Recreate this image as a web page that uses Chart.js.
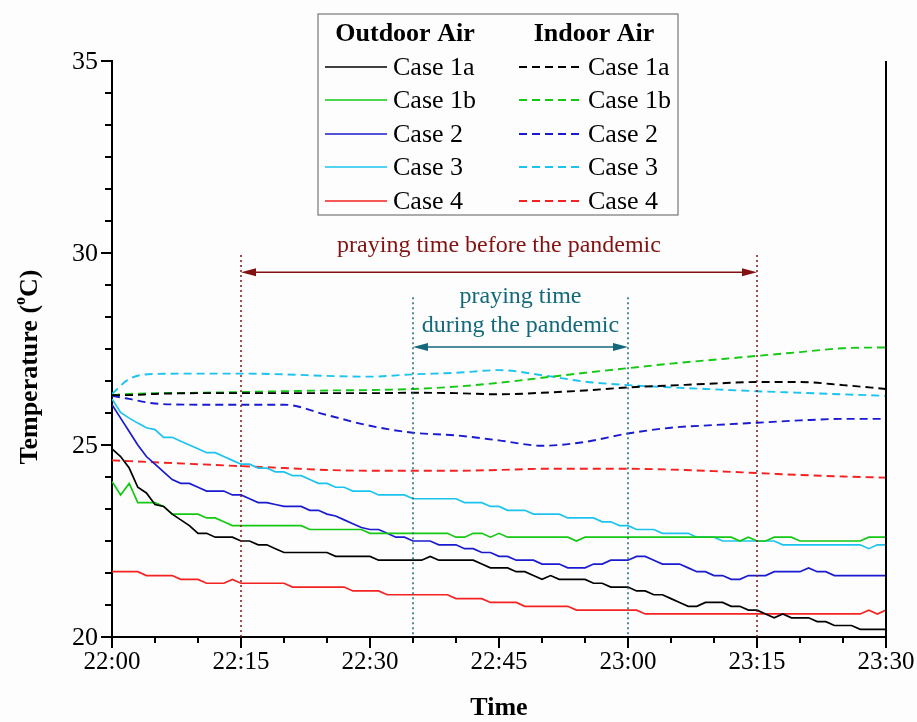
<!DOCTYPE html>
<html>
<head>
<meta charset="utf-8">
<script src="https://cdn.jsdelivr.net/npm/chart.js@4.4.1/dist/chart.umd.min.js"></script>
<style>
  html, body { margin: 0; padding: 0; background: #fdfdfd; }
  #wrap { width: 917px; height: 722px; }
</style>
</head>
<body>
<div id="wrap"><canvas id="tempChart" width="917" height="722"></canvas></div>
<script>
// ---- data ----
const caseNames = ['Case 1a', 'Case 1b', 'Case 2', 'Case 3', 'Case 4'];
const groupNames = ['Outdoor Air', 'Indoor Air'];
const timeTicks = ['22:00', '22:15', '22:30', '22:45', '23:00', '23:15', '23:30'];
const tempTicks = [20, 25, 30, 35];

// minutes after 22:00
const outdoorMinutes = [
  0, 1, 2, 3, 4, 5, 6, 7, 8, 9, 10, 11, 12, 13, 14, 15, 16, 17, 18, 19,
  20, 21, 22, 23, 24, 25, 26, 27, 28, 29, 30, 31, 32, 33, 34, 35, 36, 37, 38, 39,
  40, 41, 42, 43, 44, 45, 46, 47, 48, 49, 50, 51, 52, 53, 54, 55, 56, 57, 58, 59,
  60, 61, 62, 63, 64, 65, 66, 67, 68, 69, 70, 71, 72, 73, 74, 75, 76, 77, 78, 79,
  80, 81, 82, 83, 84, 85, 86, 87, 88, 89, 90
];
const indoorMinutes = [0, 2, 5, 10, 15, 20, 25, 30, 35, 40, 45, 50, 55, 60, 65, 70, 75, 80, 85, 90];

const outCase1a = [
  24.9, 24.7, 24.4, 23.9, 23.75, 23.45, 23.4, 23.2, 23.05, 22.9,
  22.7, 22.7, 22.6, 22.6, 22.6, 22.5, 22.5, 22.4, 22.4, 22.3,
  22.2, 22.2, 22.2, 22.2, 22.2, 22.2, 22.1, 22.1, 22.1, 22.1,
  22.1, 22.0, 22.0, 22.0, 22.0, 22.0, 22.0, 22.1, 22.0, 22.0,
  22.0, 22.0, 22.0, 21.9, 21.8, 21.8, 21.8, 21.7, 21.7, 21.6,
  21.5, 21.6, 21.5, 21.5, 21.5, 21.5, 21.4, 21.4, 21.3, 21.3,
  21.3, 21.2, 21.2, 21.1, 21.1, 21.0, 20.9, 20.8, 20.8, 20.9,
  20.9, 20.9, 20.8, 20.8, 20.7, 20.7, 20.6, 20.5, 20.6, 20.5,
  20.5, 20.5, 20.4, 20.4, 20.3, 20.3, 20.3, 20.2, 20.2, 20.2,
  20.2
];
const outCase1b = [
  24.05, 23.7, 24.0, 23.5, 23.5, 23.5, 23.4, 23.2, 23.2, 23.2,
  23.2, 23.1, 23.1, 23.0, 22.9, 22.9, 22.9, 22.9, 22.9, 22.9,
  22.9, 22.9, 22.9, 22.8, 22.8, 22.8, 22.8, 22.8, 22.8, 22.8,
  22.7, 22.7, 22.7, 22.7, 22.7, 22.7, 22.7, 22.7, 22.7, 22.7,
  22.6, 22.6, 22.7, 22.7, 22.6, 22.7, 22.6, 22.6, 22.6, 22.6,
  22.6, 22.6, 22.6, 22.6, 22.5, 22.6, 22.6, 22.6, 22.6, 22.6,
  22.6, 22.6, 22.6, 22.6, 22.6, 22.6, 22.6, 22.6, 22.6, 22.6,
  22.6, 22.6, 22.6, 22.5, 22.6, 22.5, 22.5, 22.6, 22.6, 22.6,
  22.5, 22.5, 22.5, 22.5, 22.5, 22.5, 22.5, 22.5, 22.6, 22.6,
  22.6
];
const outCase2 = [
  26.05, 25.7, 25.35, 25.0, 24.7, 24.5, 24.3, 24.1, 24.0, 24.0,
  23.9, 23.8, 23.8, 23.8, 23.7, 23.7, 23.6, 23.5, 23.5, 23.45,
  23.4, 23.4, 23.4, 23.3, 23.3, 23.2, 23.15, 23.05, 22.95, 22.85,
  22.8, 22.8, 22.7, 22.6, 22.6, 22.5, 22.5, 22.5, 22.4, 22.4,
  22.4, 22.3, 22.3, 22.2, 22.2, 22.1, 22.1, 22.0, 22.0, 22.0,
  21.9, 21.9, 21.9, 21.8, 21.8, 21.8, 21.9, 21.9, 22.0, 22.0,
  22.0, 22.1, 22.1, 22.0, 21.9, 21.9, 21.9, 21.8, 21.7, 21.7,
  21.6, 21.6, 21.5, 21.5, 21.6, 21.6, 21.6, 21.7, 21.7, 21.7,
  21.7, 21.8, 21.7, 21.7, 21.6, 21.6, 21.6, 21.6, 21.6, 21.6,
  21.6
];
const outCase3 = [
  26.2, 25.85, 25.7, 25.57, 25.45, 25.4, 25.2, 25.2, 25.1, 25.0,
  24.9, 24.8, 24.8, 24.7, 24.6, 24.5, 24.5, 24.4, 24.4, 24.3,
  24.3, 24.2, 24.2, 24.1, 24.0, 24.0, 23.9, 23.9, 23.8, 23.8,
  23.8, 23.7, 23.7, 23.7, 23.7, 23.6, 23.6, 23.6, 23.6, 23.6,
  23.6, 23.5, 23.5, 23.5, 23.4, 23.4, 23.3, 23.3, 23.3, 23.2,
  23.2, 23.2, 23.2, 23.1, 23.1, 23.1, 23.1, 23.0, 23.0, 22.9,
  22.9, 22.8, 22.8, 22.8, 22.7, 22.7, 22.7, 22.7, 22.6, 22.6,
  22.6, 22.5, 22.5, 22.5, 22.5, 22.5, 22.5, 22.5, 22.4, 22.4,
  22.4, 22.4, 22.4, 22.4, 22.4, 22.4, 22.4, 22.4, 22.3, 22.4,
  22.4
];
const outCase4 = [
  21.7, 21.7, 21.7, 21.7, 21.6, 21.6, 21.6, 21.6, 21.5, 21.5,
  21.5, 21.4, 21.4, 21.4, 21.5, 21.4, 21.4, 21.4, 21.4, 21.4,
  21.4, 21.3, 21.3, 21.3, 21.3, 21.3, 21.3, 21.3, 21.2, 21.2,
  21.2, 21.2, 21.1, 21.1, 21.1, 21.1, 21.1, 21.1, 21.1, 21.1,
  21.0, 21.0, 21.0, 21.0, 20.9, 20.9, 20.9, 20.9, 20.8, 20.8,
  20.8, 20.8, 20.8, 20.8, 20.7, 20.7, 20.7, 20.7, 20.7, 20.7,
  20.7, 20.7, 20.6, 20.6, 20.6, 20.6, 20.6, 20.6, 20.6, 20.6,
  20.6, 20.6, 20.6, 20.6, 20.6, 20.6, 20.6, 20.6, 20.6, 20.6,
  20.6, 20.6, 20.6, 20.6, 20.6, 20.6, 20.6, 20.6, 20.7, 20.6,
  20.7
];

const inCase1a = [26.3, 26.3, 26.33, 26.35, 26.35, 26.35, 26.35, 26.35, 26.36, 26.35, 26.32, 26.36, 26.42, 26.5, 26.55, 26.6, 26.64, 26.64, 26.56, 26.46];
const inCase1b = [26.3, 26.33, 26.35, 26.36, 26.38, 26.4, 26.42, 26.43, 26.46, 26.52, 26.62, 26.75, 26.88, 27.0, 27.12, 27.22, 27.32, 27.42, 27.52, 27.54];
const inCase2  = [26.28, 26.2, 26.08, 26.05, 26.05, 26.05, 25.78, 25.5, 25.32, 25.25, 25.12, 24.98, 25.08, 25.3, 25.45, 25.52, 25.58, 25.64, 25.68, 25.68];
const inCase3  = [26.33, 26.72, 26.85, 26.86, 26.86, 26.84, 26.8, 26.78, 26.84, 26.88, 26.95, 26.82, 26.65, 26.56, 26.5, 26.45, 26.4, 26.36, 26.32, 26.28];
const inCase4  = [24.6, 24.58, 24.55, 24.5, 24.45, 24.4, 24.35, 24.33, 24.33, 24.33, 24.35, 24.38, 24.38, 24.38, 24.36, 24.32, 24.27, 24.22, 24.18, 24.15];

// praying periods (minutes after 22:00)
const beforePandemic = { label: 'praying time before the pandemic', from: 15, to: 75 };
const duringPandemic = { label: ['praying time', 'during the pandemic'], from: 35, to: 60 };

// ---- styles ----
const caseColors = ['#000000', '#14c814', '#1a1ad0', '#1cc3ef', '#f52222'];
const serif = '"Liberation Serif", "Times New Roman", serif';
const maroon = '#821212';
const teal = '#13697a';

function toPoints(minutes, values) {
  return minutes.map((m, i) => ({ x: m, y: values[i] }));
}

const outdoorSets = [outCase1a, outCase1b, outCase2, outCase3, outCase4];
const indoorSets = [inCase1a, inCase1b, inCase2, inCase3, inCase4];

const datasets = [];
outdoorSets.forEach((vals, i) => {
  datasets.push({
    label: caseNames[i],
    group: 0,
    data: toPoints(outdoorMinutes, vals),
    borderColor: caseColors[i],
    borderWidth: 1.7,
    pointRadius: 0,
    tension: 0
  });
});
indoorSets.forEach((vals, i) => {
  datasets.push({
    label: caseNames[i],
    group: 1,
    data: toPoints(indoorMinutes, vals),
    borderColor: caseColors[i],
    borderWidth: 1.9,
    borderDash: [8, 5],
    pointRadius: 0,
    cubicInterpolationMode: 'monotone'
  });
});

function drawArrowHead(ctx, x, y, dir) {
  ctx.beginPath();
  ctx.moveTo(x, y);
  ctx.lineTo(x + dir * 15, y - 4);
  ctx.lineTo(x + dir * 15, y + 4);
  ctx.closePath();
  ctx.fill();
}

function drawPeriod(chart, period, topValue, arrowValue, color) {
  const ctx = chart.ctx;
  const xs = chart.scales.x, ys = chart.scales.y;
  const x1 = xs.getPixelForValue(period.from);
  const x2 = xs.getPixelForValue(period.to);
  const yTop = ys.getPixelForValue(topValue);
  const yArrow = ys.getPixelForValue(arrowValue);
  const bottom = chart.chartArea.bottom;

  ctx.save();
  ctx.strokeStyle = color;
  ctx.fillStyle = color;
  // dotted verticals
  ctx.lineWidth = 1.5;
  ctx.setLineDash([2, 3]);
  [x1, x2].forEach(x => {
    ctx.beginPath();
    ctx.moveTo(x, yTop);
    ctx.lineTo(x, bottom);
    ctx.stroke();
  });
  // double arrow
  ctx.setLineDash([]);
  ctx.lineWidth = 1.5;
  ctx.beginPath();
  ctx.moveTo(x1 + 10, yArrow);
  ctx.lineTo(x2 - 10, yArrow);
  ctx.stroke();
  drawArrowHead(ctx, x1, yArrow, 1);
  drawArrowHead(ctx, x2, yArrow, -1);
  ctx.restore();
  return { x1, x2, yTop, yArrow };
}

const decorations = {
  id: 'decorations',
  beforeDraw(chart) {
    const ctx = chart.ctx;
    ctx.save();
    ctx.fillStyle = '#fdfdfd';
    ctx.fillRect(0, 0, chart.width, chart.height);
    ctx.restore();
  },
  afterDatasetsDraw(chart) {
    const ctx = chart.ctx;
    const b = drawPeriod(chart, beforePandemic, 29.95, 29.5, maroon);
    const d = drawPeriod(chart, duringPandemic, 28.85, 27.55, teal);

    ctx.save();
    ctx.textAlign = 'center';
    ctx.textBaseline = 'middle';
    ctx.font = '24px ' + serif;
    ctx.fillStyle = maroon;
    ctx.fillText(beforePandemic.label, (b.x1 + b.x2) / 2, 246);
    ctx.fillStyle = teal;
    ctx.fillText(duringPandemic.label[0], (d.x1 + d.x2) / 2, 297);
    ctx.fillText(duringPandemic.label[1], (d.x1 + d.x2) / 2, 326);
    ctx.restore();
  },
  afterDraw(chart) {
    const ctx = chart.ctx;
    const { left, right, top, bottom } = chart.chartArea;
    const xs = chart.scales.x, ys = chart.scales.y;

    ctx.save();
    ctx.strokeStyle = '#000';
    // right frame line
    ctx.lineWidth = 2;
    ctx.beginPath();
    ctx.moveTo(right, top);
    ctx.lineTo(right, bottom + 1);
    ctx.stroke();

    // x ticks every 5 minutes, longer every 15
    for (let m = 0; m <= 90; m += 5) {
      const x = xs.getPixelForValue(m);
      const major = m % 15 === 0;
      ctx.lineWidth = 2;
      ctx.beginPath();
      ctx.moveTo(x, bottom);
      ctx.lineTo(x, bottom + (major ? 11 : 6));
      ctx.stroke();
    }
    // y ticks, 5 minor divisions between majors
    for (let k = 0; k <= 18; k++) {
      const y = ys.getPixelForValue(20 + k * 5 / 6);
      const major = k % 6 === 0;
      ctx.lineWidth = 2;
      ctx.beginPath();
      ctx.moveTo(left, y);
      ctx.lineTo(left - (major ? 11 : 7), y);
      ctx.stroke();
    }

    // tick labels
    ctx.fillStyle = '#000';
    ctx.font = '25px ' + serif;
    ctx.textAlign = 'center';
    ctx.textBaseline = 'top';
    timeTicks.forEach((t, i) => {
      ctx.fillText(t, xs.getPixelForValue(i * 15), bottom + 13);
    });
    ctx.font = '26px ' + serif;
    ctx.textAlign = 'right';
    ctx.textBaseline = 'middle';
    tempTicks.forEach(v => {
      ctx.fillText(String(v), left - 14, ys.getPixelForValue(v) + 1);
    });
    ctx.restore();

    // legend box
    ctx.save();
    const box = { x: 318, y: 14, w: 360, h: 201 };
    ctx.fillStyle = '#fdfdfd';
    ctx.fillRect(box.x, box.y, box.w, box.h);
    ctx.strokeStyle = '#777';
    ctx.lineWidth = 1.2;
    ctx.strokeRect(box.x, box.y, box.w, box.h);

    ctx.fillStyle = '#000';
    ctx.textBaseline = 'middle';
    ctx.textAlign = 'center';
    ctx.font = 'bold 26px ' + serif;
    ctx.fillText(groupNames[0], 405, 34);
    ctx.fillText(groupNames[1], 594, 34);

    const rowY = [67, 100, 134, 167, 201];
    const cols = [{ lx1: 325, lx2: 387, tx: 393 }, { lx1: 519, lx2: 583, tx: 588 }];
    ctx.textAlign = 'left';
    ctx.font = '26px ' + serif;
    chart.data.datasets.forEach((ds, i) => {
      const col = cols[ds.group];
      const y = rowY[i % 5];
      ctx.strokeStyle = ds.borderColor;
      ctx.lineWidth = ds.borderWidth;
      ctx.setLineDash(ds.borderDash || []);
      ctx.beginPath();
      ctx.moveTo(col.lx1, y);
      ctx.lineTo(col.lx2, y);
      ctx.stroke();
      ctx.setLineDash([]);
      ctx.fillText(ds.label, col.tx, y + 1);
    });
    ctx.restore();

    // axis titles
    ctx.save();
    ctx.fillStyle = '#000';
    ctx.textBaseline = 'middle';
    ctx.textAlign = 'center';
    ctx.font = 'bold 26px ' + serif;
    ctx.fillText('Time', (left + right) / 2, 708);

    ctx.translate(30, 367);
    ctx.rotate(-Math.PI / 2);
    const big = 'bold 26px ' + serif, small = 'bold 16px ' + serif;
    ctx.font = big;
    const w1 = ctx.measureText('Temperature (').width;
    const w3 = ctx.measureText('C)').width;
    ctx.font = small;
    const w2 = ctx.measureText('o').width;
    let x = -(w1 + w2 + w3) / 2;
    ctx.textAlign = 'left';
    ctx.font = big;
    ctx.fillText('Temperature (', x, 0);
    x += w1;
    ctx.font = small;
    ctx.fillText('o', x, -9);
    x += w2;
    ctx.font = big;
    ctx.fillText('C)', x, 0);
    ctx.restore();
  }
};

const ctx = document.getElementById('tempChart').getContext('2d');
new Chart(ctx, {
  type: 'line',
  data: { datasets: datasets },
  options: {
    responsive: false,
    animation: false,
    devicePixelRatio: 1,
    layout: { padding: { left: 0, right: 31, top: 61, bottom: 0 } },
    plugins: {
      legend: { display: false },
      tooltip: { enabled: false }
    },
    scales: {
      x: {
        type: 'linear',
        min: 0,
        max: 90,
        afterFit: s => { s.height = 85; s.paddingLeft = 0; s.paddingRight = 0; },
        grid: { display: false, drawTicks: false },
        border: { display: true, color: '#000', width: 2 },
        ticks: { display: false, stepSize: 15 }
      },
      y: {
        min: 20,
        max: 35,
        afterFit: s => { s.width = 112; s.paddingTop = 0; s.paddingBottom = 0; },
        grid: { display: false, drawTicks: false },
        border: { display: true, color: '#000', width: 2 },
        ticks: { display: false, stepSize: 5 }
      }
    }
  },
  plugins: [decorations]
});
</script>
</body>
</html>
